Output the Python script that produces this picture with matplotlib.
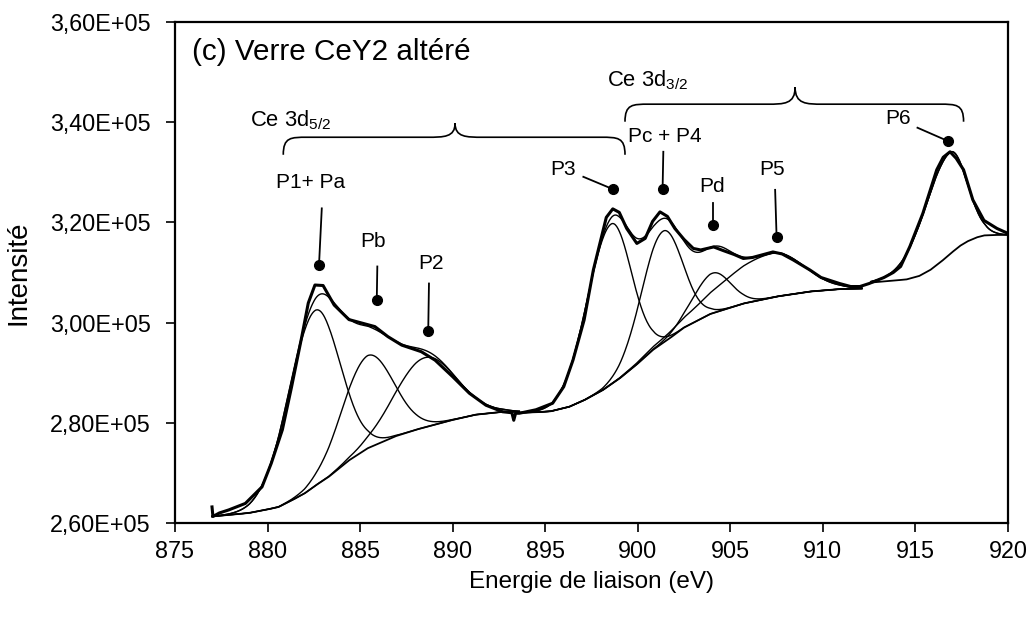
import numpy as np
import matplotlib
matplotlib.use("Agg")
import matplotlib.pyplot as plt
from matplotlib.path import Path
from matplotlib.patches import PathPatch
from matplotlib.ticker import FuncFormatter, MultipleLocator

plt.rcParams['font.family'] = ['Liberation Sans', 'DejaVu Sans']
plt.rcParams['mathtext.default'] = 'regular'

meas_energy = [877.0, 877.05, 877.4, 877.9, 878.8, 879.7, 880.2, 880.8, 881.3, 881.85,
               882.2, 882.56, 883.0, 883.6, 884.4, 885.1, 885.8, 886.5, 887.25, 888.3,
               889.05, 890.0, 890.9, 891.8, 892.7, 893.2, 893.3, 893.4, 893.6, 894.5,
               895.4, 896.0, 896.5, 897.1, 897.6, 898.0, 898.3, 898.65, 899.0, 899.4,
               899.95, 900.4, 900.8, 901.2, 901.6, 902.0, 902.5, 903.0, 903.4, 904.1,
               904.6, 905.2, 905.7, 906.2, 906.7, 907.3, 907.8, 908.4, 909.3, 909.9,
               910.9, 911.5, 912.0, 912.5, 913.3, 913.8, 914.2, 914.7, 915.4, 916.15,
               916.5, 916.87, 917.2, 917.6, 918.1, 918.7, 919.4, 920.0]
meas_intens = [263200, 261300, 262000, 262600, 263900, 267200, 271900, 278600, 287200, 297200,
               303900, 307500, 307400, 303500, 300600, 299900, 299200, 297200, 295500, 294200,
               292500, 289200, 285900, 283500, 282200, 282000, 280500, 281900, 281900, 282600,
               283900, 287200, 292500, 300500, 310500, 316500, 321000, 322700, 322000, 318800,
               315800, 316800, 320200, 322100, 321200, 318800, 316600, 314800, 314500, 315100,
               314400, 313600, 312800, 313000, 313500, 314100, 313700, 312500, 310500, 309000,
               307800, 307200, 307200, 307800, 309000, 310000, 311200, 315200, 321800, 330500,
               333000, 334100, 332800, 330500, 324500, 320400, 318800, 317800]

# Shirley backgrounds (3 regions)
bg1_energy = [877.0, 877.9, 879.0, 880.0, 880.6, 881.3, 882.0, 882.6, 883.3, 884.4,
              885.4, 886.9, 888.0, 888.7, 889.8, 891.2, 892.7, 893.6]
bg1_intens = [261300, 261600, 262000, 262700, 263200, 264500, 265900, 267500, 269200, 272500,
              274900, 277300, 278600, 279300, 280400, 281600, 282200, 282200]
bg2_energy = [893.6, 894.5, 895.3, 896.3, 897.1, 898.1, 899.0, 899.9, 900.8, 901.7,
              902.5, 903.9, 905.7, 907.5, 909.3, 910.9, 912.1]
bg2_intens = [282000, 282100, 282300, 283200, 284500, 286500, 288800, 291500, 294500, 296800,
              299000, 301700, 303800, 305200, 306200, 306700, 306800]
bg3_energy = [912.6, 913.5, 914.5, 915.2, 915.8, 916.4, 916.9, 917.4, 917.8, 918.3,
              918.7, 919.3, 920.0]
bg3_intens = [308000, 308300, 308600, 309300, 310500, 312200, 313800, 315300, 316200, 317000,
              317400, 317500, 317500]

# fitted components: centre, height above background, left/right widths, region
comp_center = [882.56, 885.4, 888.5, 898.55, 901.35, 904.05, 907.3, 916.85]
comp_height = [35000, 18500, 13900, 32000, 22300, 8000, 8800, 20300]
comp_sig_left = [1.45, 1.38, 1.64, 1.3, 1.15, 1.1, 2.8, 1.4]
comp_sig_right = [1.33, 1.38, 1.64, 1.1, 1.05, 0.96, 1.65, 0.9]
comp_region = [0, 0, 0, 1, 1, 1, 1, 2]

# peak labels
label_text = ["P1+ Pa", "Pb", "P2", "P3", "Pc + P4", "Pd", "P5", "P6"]
label_pos = [(882.3, 328000), (885.71, 316100), (888.83, 311800), (895.98, 330600),
             (901.47, 337100), (903.99, 327100), (907.24, 330600), (914.04, 340800)]
line_start = [(882.93, 322800), (885.93, 311200), (888.72, 307800), (897.06, 329100),
              (901.38, 334100), (904.08, 323800), (907.42, 326500), (915.11, 338900)]
dot_pos = [(882.78, 311500), (885.9, 304500), (888.68, 298300), (898.68, 326600),
           (901.34, 326600), (904.08, 319500), (907.5, 317000), (916.78, 336200)]

backgrounds = [(bg1_energy, bg1_intens), (bg2_energy, bg2_intens), (bg3_energy, bg3_intens)]

fig = plt.figure(figsize=(10.33, 6.17), dpi=100)
ax = fig.add_axes([0.1694, 0.1524, 0.8064, 0.8119])

lc = 'black'
for r, (be, bi) in enumerate(backgrounds):
    x = np.linspace(be[0], be[-1], 500)
    base = np.interp(x, be, bi)
    env = base.copy()
    for c, h, sl, sr, reg in zip(comp_center, comp_height, comp_sig_left, comp_sig_right, comp_region):
        if reg != r:
            continue
        sig = np.where(x < c, sl, sr)
        g = h * np.exp(-0.5 * ((x - c) / sig) ** 2)
        env += g
        ax.plot(x, base + g, color=lc, lw=1.0)
    ax.plot(x, base, color=lc, lw=1.3)
    ax.plot(x, env, color=lc, lw=1.0)

ax.plot(meas_energy, meas_intens, color=lc, lw=2.2)

for t, p, s, d in zip(label_text, label_pos, line_start, dot_pos):
    ax.text(p[0], p[1], t, fontsize=15, ha='center', va='center')
    ax.plot([s[0], d[0]], [s[1], d[1]], color=lc, lw=1.3)
    ax.plot(d[0], d[1], 'o', color=lc, ms=7)


def brace(x0, x1, xt, ye, yh, yt, wend=1.3, wtip=1.5):
    verts = [(x0, ye), (x0, yh), (x0 + 0.4, yh), (x0 + wend, yh),
             (xt - wtip, yh),
             (xt - 0.6, yh), (xt, yh), (xt, yt),
             (xt, yh), (xt + 0.6, yh), (xt + wtip, yh),
             (x1 - wend, yh),
             (x1 - 0.4, yh), (x1, yh), (x1, ye)]
    codes = [Path.MOVETO, Path.CURVE4, Path.CURVE4, Path.CURVE4,
             Path.LINETO,
             Path.CURVE4, Path.CURVE4, Path.CURVE4,
             Path.CURVE4, Path.CURVE4, Path.CURVE4,
             Path.LINETO,
             Path.CURVE4, Path.CURVE4, Path.CURVE4]
    ax.add_patch(PathPatch(Path(verts, codes), fill=False, lw=1.2, color=lc))


brace(880.85, 899.31, 890.13, 333500, 337000, 339800)
brace(899.31, 917.6, 908.5, 340100, 343600, 347000)
ax.text(879.05, 340400, "Ce 3d$_{5/2}$", fontsize=15.8, ha='left', va='center')
ax.text(898.32, 348400, "Ce 3d$_{3/2}$", fontsize=15.8, ha='left', va='center')

ax.text(0.02, 0.9407, "(c) Verre CeY2 altéré", transform=ax.transAxes,
        fontsize=21.3, ha='left', va='center')

ax.set_xlim(875, 920)
ax.set_ylim(260000, 360000)
ax.xaxis.set_major_locator(MultipleLocator(5))
ax.yaxis.set_major_locator(MultipleLocator(20000))
ax.yaxis.set_major_formatter(FuncFormatter(lambda v, p: f"{v:.2E}".replace('.', ',')))
ax.tick_params(direction='out', length=6.5, width=1.2, labelsize=16.8)
ax.tick_params(axis='x', pad=5.5)
ax.tick_params(axis='y', pad=11)
for sp in ax.spines.values():
    sp.set_linewidth(1.6)
ax.set_xlabel("Energie de liaison (eV)", fontsize=17.5, labelpad=6)
ax.set_ylabel("Intensité", fontsize=20, labelpad=13)

fig.savefig("out.png", dpi=100)
